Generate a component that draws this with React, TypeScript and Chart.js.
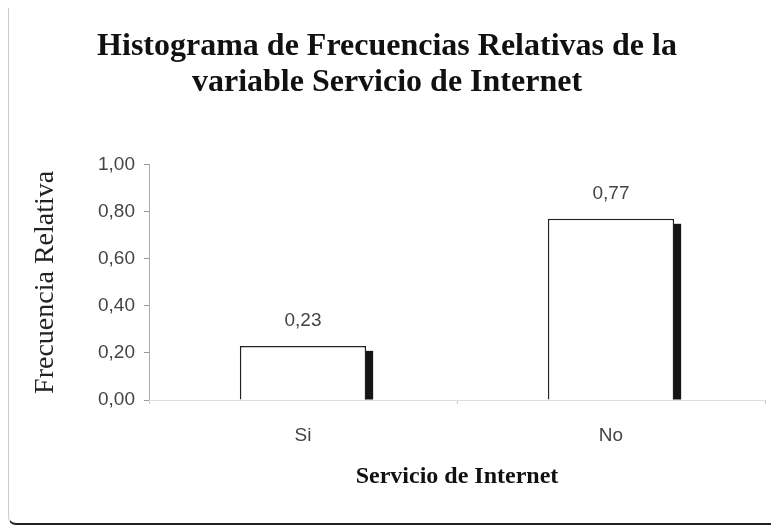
import React, { useEffect, useRef } from "react";
import { Chart, registerables } from "chart.js";

Chart.register(...registerables);

const categories = ["Si", "No"];
const relativeFrequency = [0.23, 0.77];
const yTicks = [0, 0.2, 0.4, 0.6, 0.8, 1.0];
const titleLines = ["Histograma de Frecuencias Relativas de la", "variable Servicio de Internet"];
const yTitle = "Frecuencia Relativa";
const xTitle = "Servicio de Internet";

const fmt = (v: number) => v.toFixed(2).replace(".", ",");

const shadowPlugin = {
  id: "barShadow",
  beforeDatasetsDraw(chart: any) {
    const ctx = chart.ctx;
    const meta = chart.getDatasetMeta(0);
    ctx.save();
    ctx.fillStyle = "#151515";
    meta.data.forEach((bar: any) => {
      const right = bar.x + bar.width / 2;
      ctx.fillRect(right - 1, bar.y + 5, 8, bar.base - bar.y - 5);
    });
    ctx.restore();
  },
};

const labelPlugin = {
  id: "valueLabels",
  afterDatasetsDraw(chart: any) {
    const ctx = chart.ctx;
    const meta = chart.getDatasetMeta(0);
    const data = chart.data.datasets[0].data;
    ctx.save();
    ctx.fillStyle = "#444";
    ctx.font = "19px 'Liberation Sans', Arial, sans-serif";
    ctx.textAlign = "center";
    ctx.textBaseline = "middle";
    meta.data.forEach((bar: any, i: number) => {
      ctx.fillText(fmt(data[i]), bar.x, bar.y - 25);
    });
    ctx.restore();
  },
};

export default function App() {
  const ref = useRef<HTMLCanvasElement | null>(null);
  useEffect(() => {
    if (!ref.current) return;
    const chart = new Chart(ref.current, {
      type: "bar",
      data: {
        labels: categories,
        datasets: [
          {
            data: relativeFrequency,
            backgroundColor: "#ffffff",
            borderColor: "#222",
            borderWidth: 1.5,
            categoryPercentage: 1,
            barPercentage: 0.41,
          },
        ],
      },
      options: {
        animation: false,
        responsive: true,
        maintainAspectRatio: false,
        layout: { padding: { left: 0, right: 14, top: 0, bottom: 0 } },
        plugins: {
          legend: { display: false },
          tooltip: { enabled: false },
          title: {
            display: true,
            text: titleLines,
            color: "#111",
            font: { family: "'Liberation Serif', 'Times New Roman', serif", size: 32, weight: "bold", lineHeight: 1.12 },
            padding: { top: 21, bottom: 64 },
          },
        },
        scales: {
          y: {
            min: 0,
            max: 1,
            afterBuildTicks: (scale: any) => {
              scale.ticks = yTicks.map((v) => ({ value: v }));
            },
            afterFit: (scale: any) => {
              scale.width = 140;
            },
            ticks: {
              callback: (v: any) => fmt(Number(v)),
              color: "#444",
              font: { family: "'Liberation Sans', Arial, sans-serif", size: 19 },
              padding: 9,
            },
            grid: { drawOnChartArea: false, drawTicks: true, tickLength: 5, color: "#999" },
            border: { display: true, color: "#aaa", width: 1 },
            title: {
              display: true,
              text: yTitle,
              color: "#222",
              font: { family: "'Liberation Serif', 'Times New Roman', serif", size: 28 },
              padding: { top: 20, bottom: 0 },
            },
          },
          x: {
            afterFit: (scale: any) => {
              scale.height = 123;
            },
            ticks: {
              color: "#444",
              font: { family: "'Liberation Sans', Arial, sans-serif", size: 19 },
              padding: 20,
            },
            grid: { drawOnChartArea: false, drawTicks: true, tickLength: 4, color: "#ccc", offset: true },
            border: { display: true, color: "#ddd", width: 1 },
            title: {
              display: true,
              text: xTitle,
              color: "#111",
              font: { family: "'Liberation Serif', 'Times New Roman', serif", size: 24, weight: "bold" },
              padding: { top: 0, bottom: 32 },
            },
          },
        },
      },
      plugins: [shadowPlugin, labelPlugin],
    });
    return () => chart.destroy();
  }, []);
  return (
    <div
      style={{
        position: "relative",
        width: 771,
        height: 517,
        borderLeft: "1px solid #ccc",
        borderBottom: "2px solid #222",
        borderBottomRightRadius: 8,
        borderBottomLeftRadius: 8,
        boxSizing: "border-box",
      }}
    >
      <canvas ref={ref} />
    </div>
  );
}
